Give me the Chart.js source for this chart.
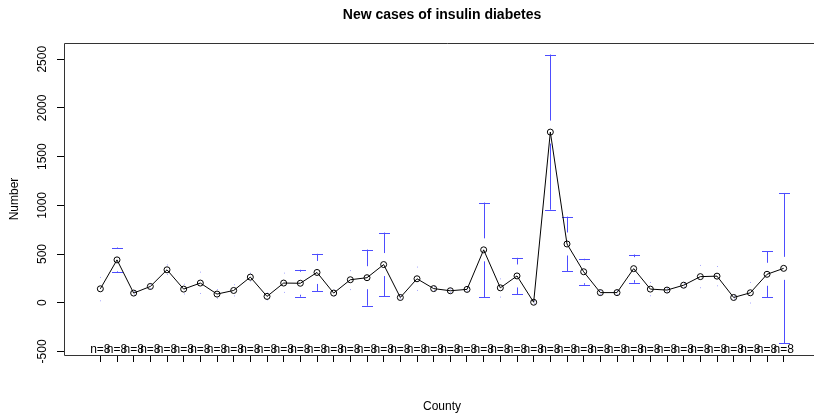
<!DOCTYPE html>
<html lang="en">
<head>
<meta charset="UTF-8">
<title>New cases of insulin diabetes</title>
<style>
  html, body { margin: 0; padding: 0; background: #fff; overflow: hidden; }
  #wrap { width: 814px; height: 415px; overflow: hidden; }
</style>
<script src="https://cdn.jsdelivr.net/npm/chart.js"></script>
</head>
<body>
<div id="wrap"><canvas id="chart" width="830" height="415"></canvas></div>
<script>
// county index (names are not printed on the axis)
const counties = [1, 2, 3, 4, 5, 6, 7, 8, 9, 10, 11, 12, 13, 14, 15, 16, 17, 18, 19, 20, 21,
                  22, 23, 24, 25, 26, 27, 28, 29, 30, 31, 32, 33, 34, 35, 36, 37, 38, 39, 40, 41, 42];
const means   = [143, 440, 99, 167, 338, 140, 202, 89, 126, 263, 65, 202, 200, 311, 99, 236, 257, 392, 54, 246, 145,
                 123, 137, 543, 153, 275, 5, 1752, 603, 318, 104, 104, 350, 140, 130, 180, 268, 273, 54, 102, 292, 353];
const ciLower = [20, 314, 80, 145, 290, 90, 95, 45, 70, 223, 30, 106, 62, 120, 70, 135, -31, 65, 40, 126, 125,
                 105, 120, 58, 58, 87, -10, 955, 322, 184, 85, 85, 205, 72, 112, 160, 154, 174, 38, -3, 56, -418];
const ciUpper = [260, 567, 118, 190, 388, 190, 314, 135, 185, 303, 100, 304, 338, 502, 130, 330, 546, 720, 68, 366, 165,
                 141, 155, 1028, 245, 461, 20, 2548, 884, 451, 123, 123, 495, 208, 148, 200, 383, 372, 70, 208, 526, 1127];
const nObs    = [8, 8, 8, 8, 8, 8, 8, 8, 8, 8, 8, 8, 8, 8, 8, 8, 8, 8, 8, 8, 8,
                 8, 8, 8, 8, 8, 8, 8, 8, 8, 8, 8, 8, 8, 8, 8, 8, 8, 8, 8, 8, 8];
const yTicks  = [-500, 0, 500, 1000, 1500, 2000, 2500];

const FONT = '"Liberation Sans", Arial, Helvetica, sans-serif';
const GAP = 11.5;   // gap around the point, px
const CAP = 5.5;    // half width of the bar caps, px

// R style axis limits: data range plus 4%
const yLo = Math.min(...ciLower), yHi = Math.max(...ciUpper);
const yPad = (yHi - yLo) * 0.04;
const xLo = 0.5, xHi = counties.length + 0.5;
const xPad = (xHi - xLo) * 0.04;

const rDecor = {
  id: 'rDecor',
  beforeDatasetsDraw(chart) {
    const { ctx, scales: { x, y } } = chart;
    ctx.save();
    ctx.strokeStyle = '#4d4dff';
    ctx.fillStyle = '#a8a8ff';
    ctx.lineWidth = 1;
    counties.forEach((c, i) => {
      const px = Math.round(x.getPixelForValue(c)) + 0.5;
      const py = y.getPixelForValue(means[i]);
      const top = y.getPixelForValue(ciUpper[i]);
      const bot = y.getPixelForValue(ciLower[i]);
      const upEnd = Math.max(top, py - GAP);
      const loEnd = Math.min(bot, py + GAP);
      [[top, upEnd], [bot, loEnd]].forEach(([a, b]) => {
        if (Math.abs(b - a) > 0.5) {
          ctx.beginPath();
          ctx.moveTo(px, a); ctx.lineTo(px, b);
          ctx.moveTo(px - CAP, Math.round(a) + 0.5); ctx.lineTo(px + CAP, Math.round(a) + 0.5);
          ctx.stroke();
        } else {
          ctx.fillRect(px - 0.5, a - 0.5, 1, 1);
        }
      });
    });
    ctx.restore();
  },
  afterDraw(chart) {
    const { ctx, chartArea: a, scales: { x, y } } = chart;
    ctx.save();
    ctx.strokeStyle = '#333';
    ctx.lineWidth = 1;
    const L = Math.round(a.left) + 0.5, T = Math.round(a.top) + 0.5, B = Math.round(a.bottom) + 0.5;
    ctx.beginPath();
    ctx.moveTo(chart.width, T); ctx.lineTo(L, T); ctx.lineTo(L, B); ctx.lineTo(chart.width, B);
    ctx.stroke();
    const cx = (a.left + a.right) / 2;
    ctx.fillStyle = '#000';
    ctx.textAlign = 'center';
    ctx.textBaseline = 'alphabetic';
    ctx.font = 'bold 14px ' + FONT;
    ctx.fillText('New cases of insulin diabetes', cx, 19);
    ctx.font = '12px ' + FONT;
    ctx.fillText('County', cx, 409.5);
    counties.forEach((c, i) => {
      ctx.fillText('n=' + nObs[i], x.getPixelForValue(c), a.bottom - 2);
    });
    // rotated y labels
    yTicks.forEach(t => {
      ctx.save();
      ctx.translate(45.5, y.getPixelForValue(t));
      ctx.rotate(-Math.PI / 2);
      ctx.fillText(String(t), 0, 0);
      ctx.restore();
    });
    ctx.translate(18.3, (a.top + a.bottom) / 2);
    ctx.rotate(-Math.PI / 2);
    ctx.fillText('Number', 0, 0);
    ctx.restore();
  }
};

new Chart(document.getElementById('chart'), {
  type: 'line',
  data: {
    datasets: [{
      data: counties.map((c, i) => ({ x: c, y: means[i] })),
      borderColor: '#000',
      borderWidth: 1,
      tension: 0,
      pointRadius: 3,
      pointBorderWidth: 1,
      pointBorderColor: '#000',
      pointBackgroundColor: 'rgba(0,0,0,0)'
    }]
  },
  options: {
    responsive: false,
    animation: false,
    events: [],
    layout: { padding: { top: 43, right: 10, left: 0, bottom: 0 } },
    plugins: { legend: { display: false }, tooltip: { enabled: false }, title: { display: false } },
    scales: {
      x: {
        type: 'linear',
        min: xLo - xPad,
        max: xHi + xPad,
        afterBuildTicks: s => { s.ticks = counties.map(v => ({ value: v })); },
        afterFit: s => { s.height = 60; },
        ticks: { callback: () => '', autoSkip: false },
        grid: { drawOnChartArea: false, tickLength: 7, color: '#000', tickColor: '#000' },
        border: { display: false }
      },
      y: {
        type: 'linear',
        min: yLo - yPad,
        max: yHi + yPad,
        afterBuildTicks: s => { s.ticks = yTicks.map(v => ({ value: v })); },
        afterFit: s => { s.width = 64; },
        ticks: { callback: () => '' },
        grid: { drawOnChartArea: false, tickLength: 7, color: '#000', tickColor: '#000' },
        border: { display: false }
      }
    }
  },
  plugins: [rDecor]
});
</script>
</body>
</html>
